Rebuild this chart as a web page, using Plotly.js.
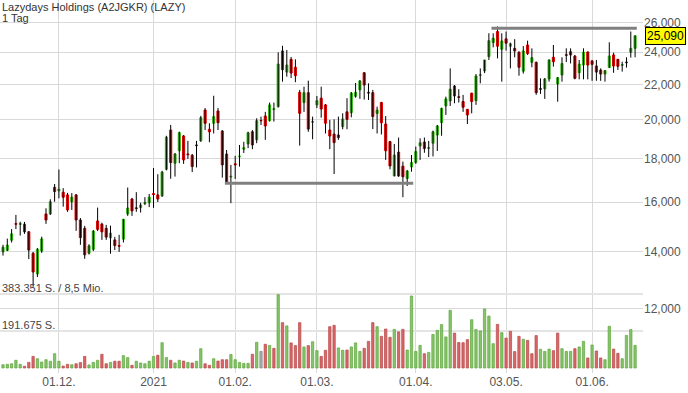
<!DOCTYPE html>
<html><head><meta charset="utf-8">
<script src="https://cdn.plot.ly/plotly-3.0.1.min.js"></script>
<style>html,body{margin:0;padding:0;background:#fff;}#chart{width:688px;height:393px;}</style>
</head><body><div id="chart"></div>
<script>
// ---------- DATA ----------
const chartTitle = 'Lazydays Holdings (A2JGKR) (LAZY)';
const chartSubtitle = '1 Tag';
const firstDay = '2020-11-11';
const lastDay = '2021-06-15';
const marketHolidays = ['2020-11-26','2020-12-25','2021-01-01','2021-01-18','2021-02-15','2021-04-02','2021-05-31'];

const open = [
13.98,14.04,14.43,15.09,15.06,15.07,14.76,13.93,13.17,14.01,
15.49,15.49,16.65,16.49,16.43,16.31,16.01,16.31,15.24,14.90,
13.93,14.08,15.20,15.07,14.90,14.52,14.44,14.22,14.47,15.49,
16.13,15.75,15.76,15.93,15.97,16.37,16.31,16.27,17.48,19.44,
17.77,18.38,19.13,18.22,18.16,18.67,18.88,20.52,19.48,19.80,
20.47,19.39,18.22,17.12,17.74,18.08,18.46,18.72,19.35,18.93,
19.95,20.19,19.94,20.55,20.71,24.08,22.74,23.54,23.04,21.53,
20.94,21.51,19.86,20.81,21.19,20.81,19.44,19.23,19.18,19.62,
20.42,20.37,21.30,21.67,22.70,21.53,21.51,20.33,20.94,19.76,
18.84,17.17,18.31,17.63,17.05,17.59,17.81,18.62,18.82,18.50,
18.76,19.18,19.83,20.75,21.03,21.90,21.27,21.00,20.56,21.48,
21.05,22.54,22.81,23.71,24.63,25.38,24.19,24.88,24.39,24.25,
24.00,22.80,24.47,23.35,23.35,21.75,21.73,22.32,23.67,22.02,
22.56,23.84,24.03,23.75,22.70,23.18,24.01,23.44,23.12,22.87,
22.62,23.02,23.82,23.54,23.16,23.37,23.99,24.25];
const high = [
14.25,14.49,14.87,15.45,15.17,15.16,14.79,13.98,14.13,14.57,
15.73,16.12,16.80,17.47,16.61,16.40,16.39,16.35,15.32,15.00,
14.27,14.83,15.76,15.13,15.04,15.01,14.56,14.64,15.28,16.64,
16.18,16.43,15.97,16.21,16.35,17.54,17.25,17.41,19.14,19.71,
18.27,19.36,19.18,18.88,18.22,18.88,20.20,20.63,19.80,21.33,
20.63,19.44,18.42,17.69,18.13,18.67,18.83,19.35,19.44,20.07,
20.16,20.42,20.94,20.94,23.99,24.42,24.14,23.69,23.54,21.67,
21.86,22.22,20.16,21.32,21.86,20.86,19.98,20.01,20.16,20.34,
21.19,21.55,22.08,22.26,22.74,22.06,21.67,20.71,20.98,20.19,
18.88,18.72,19.05,17.85,17.45,18.17,18.59,19.01,19.05,18.88,
19.41,19.71,20.65,21.28,22.97,21.96,21.71,21.38,20.58,21.50,
22.62,22.97,23.50,25.26,25.26,25.73,25.26,25.38,24.63,24.86,
24.05,24.40,24.76,24.25,23.40,22.36,22.38,23.54,24.47,22.44,
23.67,24.25,24.25,23.82,23.50,24.25,24.05,23.50,23.50,22.97,
22.87,24.65,23.97,23.56,23.39,23.67,25.38,25.12];
const low = [
13.84,14.01,14.34,14.87,14.61,14.68,13.71,12.72,13.06,13.94,
15.08,15.45,16.01,16.16,15.80,15.58,15.66,14.80,14.25,13.72,
13.88,14.01,14.79,14.44,14.44,13.91,14.05,13.98,14.34,15.41,
15.41,15.58,15.55,15.87,15.78,15.75,16.00,16.22,17.43,17.04,
17.14,17.77,17.74,17.98,17.35,17.57,18.83,19.44,18.81,19.26,
19.44,17.09,16.80,15.95,17.03,17.61,18.27,18.51,18.46,18.76,
19.71,18.93,19.89,19.89,20.66,22.16,22.46,22.38,22.13,18.64,
20.42,19.35,18.96,20.63,20.10,19.26,18.46,17.26,18.93,19.48,
19.48,20.12,21.22,21.15,21.11,21.09,19.49,19.26,19.21,17.93,
17.48,17.15,17.13,16.21,16.71,17.37,17.74,17.93,18.28,18.07,
18.10,18.37,19.14,20.25,20.75,20.90,20.94,20.42,19.76,20.34,
20.81,22.06,22.68,23.50,24.32,23.60,22.16,24.10,22.97,23.67,
22.52,22.65,23.82,23.04,21.38,21.44,21.15,22.16,23.08,20.99,
22.16,23.37,23.28,22.30,22.30,22.30,22.30,22.21,22.21,22.21,
22.16,23.00,22.70,22.87,22.77,23.02,23.65,23.67];
const close = [
14.16,14.24,14.68,15.07,15.09,14.76,14.05,13.24,14.08,14.48,
15.24,16.01,16.46,16.56,16.21,15.66,16.21,15.24,14.53,13.87,
14.21,14.79,14.86,14.76,14.55,14.71,14.22,14.20,15.27,15.74,
15.62,15.72,15.87,15.97,16.21,16.33,16.13,17.35,19.07,17.80,
18.22,19.30,17.93,18.19,17.61,18.64,20.10,19.80,19.35,20.16,
19.83,17.69,16.88,17.15,17.70,18.11,18.53,19.30,18.67,19.94,
19.94,19.66,20.81,20.59,23.24,22.89,23.18,22.68,22.52,20.34,
21.51,19.49,19.89,21.05,20.58,19.80,19.13,18.79,19.05,20.03,
20.01,21.49,21.53,22.20,21.96,21.49,20.16,20.52,19.83,18.38,
17.64,18.17,17.17,17.13,17.40,17.81,18.34,18.78,18.49,18.53,
19.35,19.66,20.61,21.15,21.71,21.32,21.24,20.68,20.25,21.00,
22.50,22.57,23.50,24.76,24.92,24.39,24.74,24.59,24.55,24.08,
23.04,24.08,23.91,23.65,21.51,21.71,22.32,23.50,23.39,22.40,
23.28,23.80,23.82,22.36,23.24,24.01,23.18,23.22,22.74,22.62,
22.83,23.75,23.12,23.10,23.20,23.33,24.25,25.09];
const volume = [
17000,19000,22000,40000,19000,9000,29000,60000,48000,31000,
43000,35000,74000,35000,10000,19000,17000,22000,28000,60000,
16000,29000,40000,71000,22000,29000,35000,35000,64000,54000,
14000,35000,26000,22000,35000,60000,66000,131000,54000,40000,
26000,40000,36000,29000,26000,35000,100000,22000,14000,48000,
36000,43000,43000,70000,43000,29000,24000,24000,71000,133000,
86000,123000,117000,102000,380000,235000,218000,130000,116000,235000,
109000,116000,136000,90000,60000,92000,214000,221000,104000,92000,
93000,109000,130000,86000,102000,138000,235000,214000,164000,202000,
159000,200000,187000,200000,93000,373000,86000,117000,74000,81000,
174000,195000,225000,161000,299000,181000,132000,131000,147000,250000,
199000,192000,306000,269000,126000,226000,183000,155000,190000,85000,
164000,149000,143000,74000,168000,97000,86000,98000,90000,181000,
100000,86000,86000,100000,109000,138000,52000,119000,88000,52000,
43000,216000,98000,76000,48000,169000,199000,117000];

const xTickDates = ['2020-12-01','2021-01-04','2021-02-01','2021-03-01','2021-04-01','2021-05-03','2021-06-01'];
const xTickLabels = ['01.12.','2021','01.02.','01.03.','01.04.','03.05.','01.06.'];
const priceTicks = [12,14,16,18,20,22,24,26];
const volumeTicks = [191675, 383351];
const volumeTickLabels = ['191.675 S.', '383.351 S. / 8,5 Mio.'];
const supportLines = [
  {from:'2021-01-28', to:'2021-03-31', level:16.83},
  {from:'2021-04-28', to:'2021-06-15', level:25.60}
];

// ---------- BUILD ----------
function tradingDays(a, b, hol){
  const out = [];
  let d = new Date(a + 'T00:00:00Z');
  const end = new Date(b + 'T00:00:00Z');
  while (d <= end){
    const s = d.toISOString().slice(0,10);
    const wd = d.getUTCDay();
    if (wd !== 0 && wd !== 6 && hol.indexOf(s) < 0) out.push(s);
    d = new Date(d.getTime() + 86400000);
  }
  return out;
}
const dates = tradingDays(firstDay, lastDay, marketHolidays);
const fmt = v => v.toFixed(3).replace('.', ',');

const GREEN = '#36b51a', RED = '#e00000';

const wx = [], wy = [];
dates.forEach((d,i)=>{ wx.push(d,d,null); wy.push(low[i],high[i],null); });

const volColors = close.map((c,i)=> i===0 ? '#86c46a' : (c>close[i-1] ? '#86c46a' : (c<close[i-1] ? '#d8676a' : '#a9a9a9')));
const volLines = close.map((c,i)=> i===0 ? '#5ea63e' : (c>close[i-1] ? '#5ea63e' : (c<close[i-1] ? '#b94848' : '#888888')));

const traces = [
  {type:'scatter', mode:'lines', x:wx, y:wy, line:{color:'#000', width:1}, hoverinfo:'skip', showlegend:false, connectgaps:false},
  {type:'candlestick', x:dates, open:open, close:close,
   high: open.map((o,i)=>Math.max(o,close[i])), low: open.map((o,i)=>Math.min(o,close[i])),
   increasing:{line:{color:GREEN,width:1}, fillcolor:GREEN},
   decreasing:{line:{color:RED,width:1}, fillcolor:RED},
   whiskerwidth:0, hoverinfo:'skip', showlegend:false},
  {type:'bar', x:dates, y:volume, yaxis:'y2', width:0.55,
   marker:{color:volColors, line:{color:volLines, width:0.7}}, hoverinfo:'skip', showlegend:false}
];

const shapes = supportLines.map(s=>({
  type:'line', xref:'x', yref:'y', layer:'above',
  x0: dates.indexOf(s.from) - 0.4, x1: dates.indexOf(s.to) + 0.4,
  y0: s.level, y1: s.level, line:{color:'#808080', width:3}
}));

const FONT = 'Liberation Sans, Arial, sans-serif';
const annotations = [
  {xref:'paper', yref:'paper', x:0, y:1, xanchor:'left', yanchor:'top', xshift:1, yshift:0, showarrow:false,
   text:chartTitle, font:{family:FONT, size:11, color:'#333'}, borderpad:0},
  {xref:'paper', yref:'paper', x:0, y:1, xanchor:'left', yanchor:'top', xshift:1, yshift:-11, showarrow:false,
   text:chartSubtitle, font:{family:FONT, size:11, color:'#333'}, borderpad:0},
  {xref:'paper', yref:'y', x:1, y:Math.log10(close[close.length-1]), xanchor:'left', yanchor:'middle', xshift:2, showarrow:false,
   text:fmt(close[close.length-1]), bgcolor:'#ffff00', bordercolor:'#000', borderwidth:1, borderpad:1,
   font:{family:FONT, size:12, color:'#000'}}
].concat(volumeTicks.map((v,i)=>({
  xref:'paper', yref:'y2', x:0, y:v, xanchor:'left', yanchor:'bottom', xshift:0, yshift:-2, showarrow:false,
  text:volumeTickLabels[i], font:{family:FONT, size:11, color:'#444'}
})));

const layout = {
  width:688, height:393,
  margin:{l:0, r:45, t:0, b:20, pad:0},
  paper_bgcolor:'#fff', plot_bgcolor:'#fff',
  showlegend:false, boxmode:'overlay', bargap:0.45,
  font:{family:FONT, size:12, color:'#555'},
  xaxis:{type:'category', range:[-0.70, 148.84], tickvals:xTickDates, ticktext:xTickLabels,
    showgrid:true, gridcolor:'#d9d9d9', gridwidth:1, ticks:'', showline:false, zeroline:false,
    rangeslider:{visible:false}, tickfont:{family:FONT, size:12, color:'#555'}, automargin:false},
  yaxis:{type:'log', range:[Math.log10(10.073), Math.log10(27.64)], side:'right',
    tickvals:priceTicks, ticktext:priceTicks.map(fmt),
    showgrid:true, gridcolor:'#d9d9d9', gridwidth:1, ticks:'', showline:false, zeroline:false,
    tickfont:{family:FONT, size:12, color:'#555'}, automargin:false},
  yaxis2:{overlaying:'y', side:'left', range:[-25900, 1906240], tickvals:volumeTicks,
    showticklabels:false, showgrid:true, gridcolor:'#e4e4e4', gridwidth:2, zeroline:false, showline:false, ticks:''},
  shapes:shapes, annotations:annotations
};

Plotly.newPlot('chart', traces, layout, {staticPlot:true, displayModeBar:false});
</script>
</body></html>
